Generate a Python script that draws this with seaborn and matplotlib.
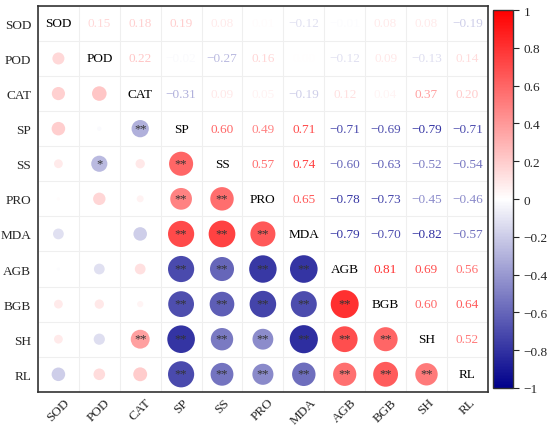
import numpy as np
import pandas as pd
import seaborn as sns
import matplotlib.pyplot as plt
from matplotlib.colors import LinearSegmentedColormap, Normalize
from matplotlib.cm import ScalarMappable

labels = ['SOD', 'POD', 'CAT', 'SP', 'SS', 'PRO', 'MDA', 'AGB', 'BGB', 'SH', 'RL']

# upper triangle of the correlation matrix, row by row (diagonal excluded)
upper_rows = [
    [0.15, 0.18, 0.19, 0.08, 0.01, -0.12, -0.01, 0.08, 0.08, -0.19],
    [0.22, -0.02, -0.27, 0.16, 0.00, -0.12, 0.09, -0.13, 0.14],
    [-0.31, 0.09, 0.05, -0.19, 0.12, 0.04, 0.37, 0.20],
    [0.60, 0.49, 0.71, -0.71, -0.69, -0.79, -0.71],
    [0.57, 0.74, -0.60, -0.63, -0.52, -0.54],
    [0.65, -0.78, -0.73, -0.45, -0.46],
    [-0.79, -0.70, -0.82, -0.57],
    [0.81, 0.69, 0.56],
    [0.60, 0.64],
    [0.52],
]

# significance marks for pairs that are not '**' by default
single_star = [('POD', 'SS')]
double_star_small = [('CAT', 'SP'), ('CAT', 'SH')]

n = len(labels)
corr = np.eye(n)
for i, row in enumerate(upper_rows):
    for k, v in enumerate(row):
        j = i + 1 + k
        corr[i, j] = v
        corr[j, i] = v

def stars(a, b, r):
    if (a, b) in single_star or (b, a) in single_star:
        return '*'
    if (a, b) in double_star_small or (b, a) in double_star_small:
        return '**'
    return '**' if abs(r) >= 0.45 else ''

cmap = LinearSegmentedColormap.from_list('bwr2', ['#00008B', '#FFFFFF', '#FF0000'])
norm = Normalize(-1, 1)

sns.set_style('white')
plt.rcParams['font.family'] = ['Liberation Serif', 'DejaVu Serif']
plt.rcParams['axes.unicode_minus'] = True

fig = plt.figure(figsize=(5.5, 4.27), dpi=100)
ax = fig.add_axes([0.069, 0.080, 0.818, 0.904])
cax = fig.add_axes([0.896, 0.089, 0.037, 0.885])

# lower triangle as circles
low = []
for i in range(n):
    for j in range(i):
        low.append({'x': j, 'y': i, 'r': corr[i, j], 'absr': abs(corr[i, j])})
low = pd.DataFrame(low)

for k in np.arange(-0.5, n, 1.0):
    ax.axhline(k, color='#efefef', lw=0.8, zorder=0)
    ax.axvline(k, color='#efefef', lw=0.8, zorder=0)

sns.scatterplot(data=low, x='x', y='y', hue='r', palette=cmap, hue_norm=norm,
                size='absr', sizes=(0, 500), size_norm=(0, 1),
                linewidth=0, legend=False, ax=ax, zorder=2)

for _, p in low.iterrows():
    s = stars(labels[int(p.x)], labels[int(p.y)], p.r)
    if s:
        ax.text(p.x, p.y - 0.02, s, ha='center', va='center', fontsize=9,
                color='#333333', zorder=3)

# upper triangle as numbers, diagonal as names
for i in range(n):
    ax.text(i, i, labels[i], ha='center', va='center', fontsize=9.5, color='black')
    for j in range(i + 1, n):
        txt = f'{corr[i, j]:.2f}'.replace('-', '\u2212')
        ax.text(j, i, txt, ha='center', va='center', fontsize=9.5,
                color=cmap(norm(corr[i, j])))

ax.set_xlim(-0.5, n - 0.5)
ax.set_ylim(n - 0.5, -0.5)
ax.set_xticks(range(n))
ax.set_yticks(range(n))
ax.set_xticklabels(labels, rotation=45, ha='center', fontsize=9.5)
ax.set_yticklabels(labels, fontsize=9.5)
ax.set_xlabel('')
ax.set_ylabel('')
ax.tick_params(axis='x', length=0, pad=3)
ax.tick_params(axis='y', length=0, pad=5)
for sp in ax.spines.values():
    sp.set_color('#333333')
    sp.set_linewidth(1.2)

sm = ScalarMappable(norm=norm, cmap=cmap)
cb = fig.colorbar(sm, cax=cax)
cb_ticks = [1, 0.8, 0.6, 0.4, 0.2, 0, -0.2, -0.4, -0.6, -0.8, -1]
cb.set_ticks(cb_ticks)
cb.set_ticklabels([('%g' % t).replace('-', '\u2212') for t in cb_ticks])
cb.ax.tick_params(labelsize=9.5, length=4, width=0.8)
cb.outline.set_linewidth(1.0)
cb.outline.set_edgecolor('#333333')

fig.savefig('out.png', dpi=100)
